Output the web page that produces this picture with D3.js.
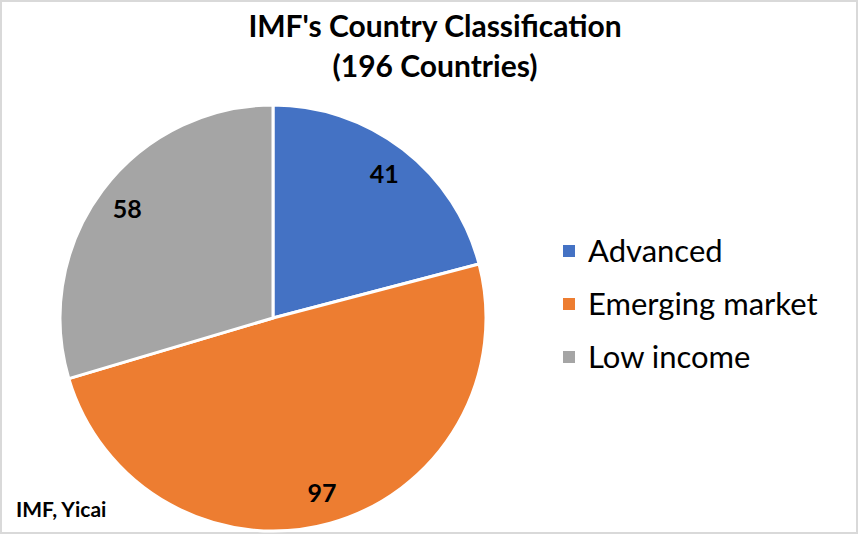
<!DOCTYPE html>
<html><head><meta charset="utf-8">
<script src="https://cdn.jsdelivr.net/npm/d3@7"></script>
<style>body{margin:0;background:#fff}svg{display:block}</style>
</head><body>
<svg id="c" width="858" height="534"></svg>
<script>
const categories = ["Advanced", "Emerging market", "Low income"];
const values = [41, 97, 58];
const colors = ["#4472C4", "#ED7D31", "#A5A5A5"];
const titleLines = ["IMF's Country Classification", "(196 Countries)"];
const sourceText = "IMF, Yicai";

const svg = d3.select("#c");
const W = 858, H = 534;
svg.append("rect").attr("x",1).attr("y",1).attr("width",W-2).attr("height",H-2)
  .attr("fill","#fff").attr("stroke","#d9d9d9").attr("stroke-width",2);

const font = "Lato, Carlito, Calibri, 'Open Sans', sans-serif";
svg.append("g").selectAll("text").data(titleLines).join("text")
  .attr("x", 435).attr("y", (d,i)=>37+i*40)
  .attr("text-anchor","middle").attr("font-family",font).attr("font-weight","bold")
  .attr("font-size",30).attr("fill","#000").text(d=>d);

const cx = 273, cy = 318, R = 213;
const pie = d3.pie().sort(null).value(d=>d)(values);
const arc = d3.arc().innerRadius(0).outerRadius(R);
const labelArc = d3.arc().innerRadius(182).outerRadius(182);
const g = svg.append("g").attr("transform",`translate(${cx},${cy})`);
g.selectAll("path").data(pie).join("path")
  .attr("d",arc).attr("fill",(d,i)=>colors[i])
  .attr("stroke","#fff").attr("stroke-width",3).attr("stroke-linejoin","round");
g.selectAll("text").data(pie).join("text")
  .attr("transform",d=>`translate(${labelArc.centroid(d)})`)
  .attr("text-anchor","middle").attr("dy","0.35em")
  .attr("font-family",font).attr("font-weight","bold").attr("font-size",25)
  .attr("fill","#000").text(d=>d.data);

const leg = svg.append("g").selectAll("g").data(categories).join("g")
  .attr("transform",(d,i)=>`translate(563,${251+i*53})`);
leg.append("rect").attr("x",0).attr("y",-6).attr("width",12).attr("height",12)
  .attr("fill",(d,i)=>colors[i]);
leg.append("text").attr("x",25).attr("y",0).attr("dy","0.35em")
  .attr("font-family",font).attr("font-size",31).attr("fill","#000").text(d=>d);

svg.append("text").attr("x",16).attr("y",517)
  .attr("font-family",font).attr("font-weight","bold").attr("font-size",21)
  .attr("fill","#000").text(sourceText);
</script>
</body></html>
